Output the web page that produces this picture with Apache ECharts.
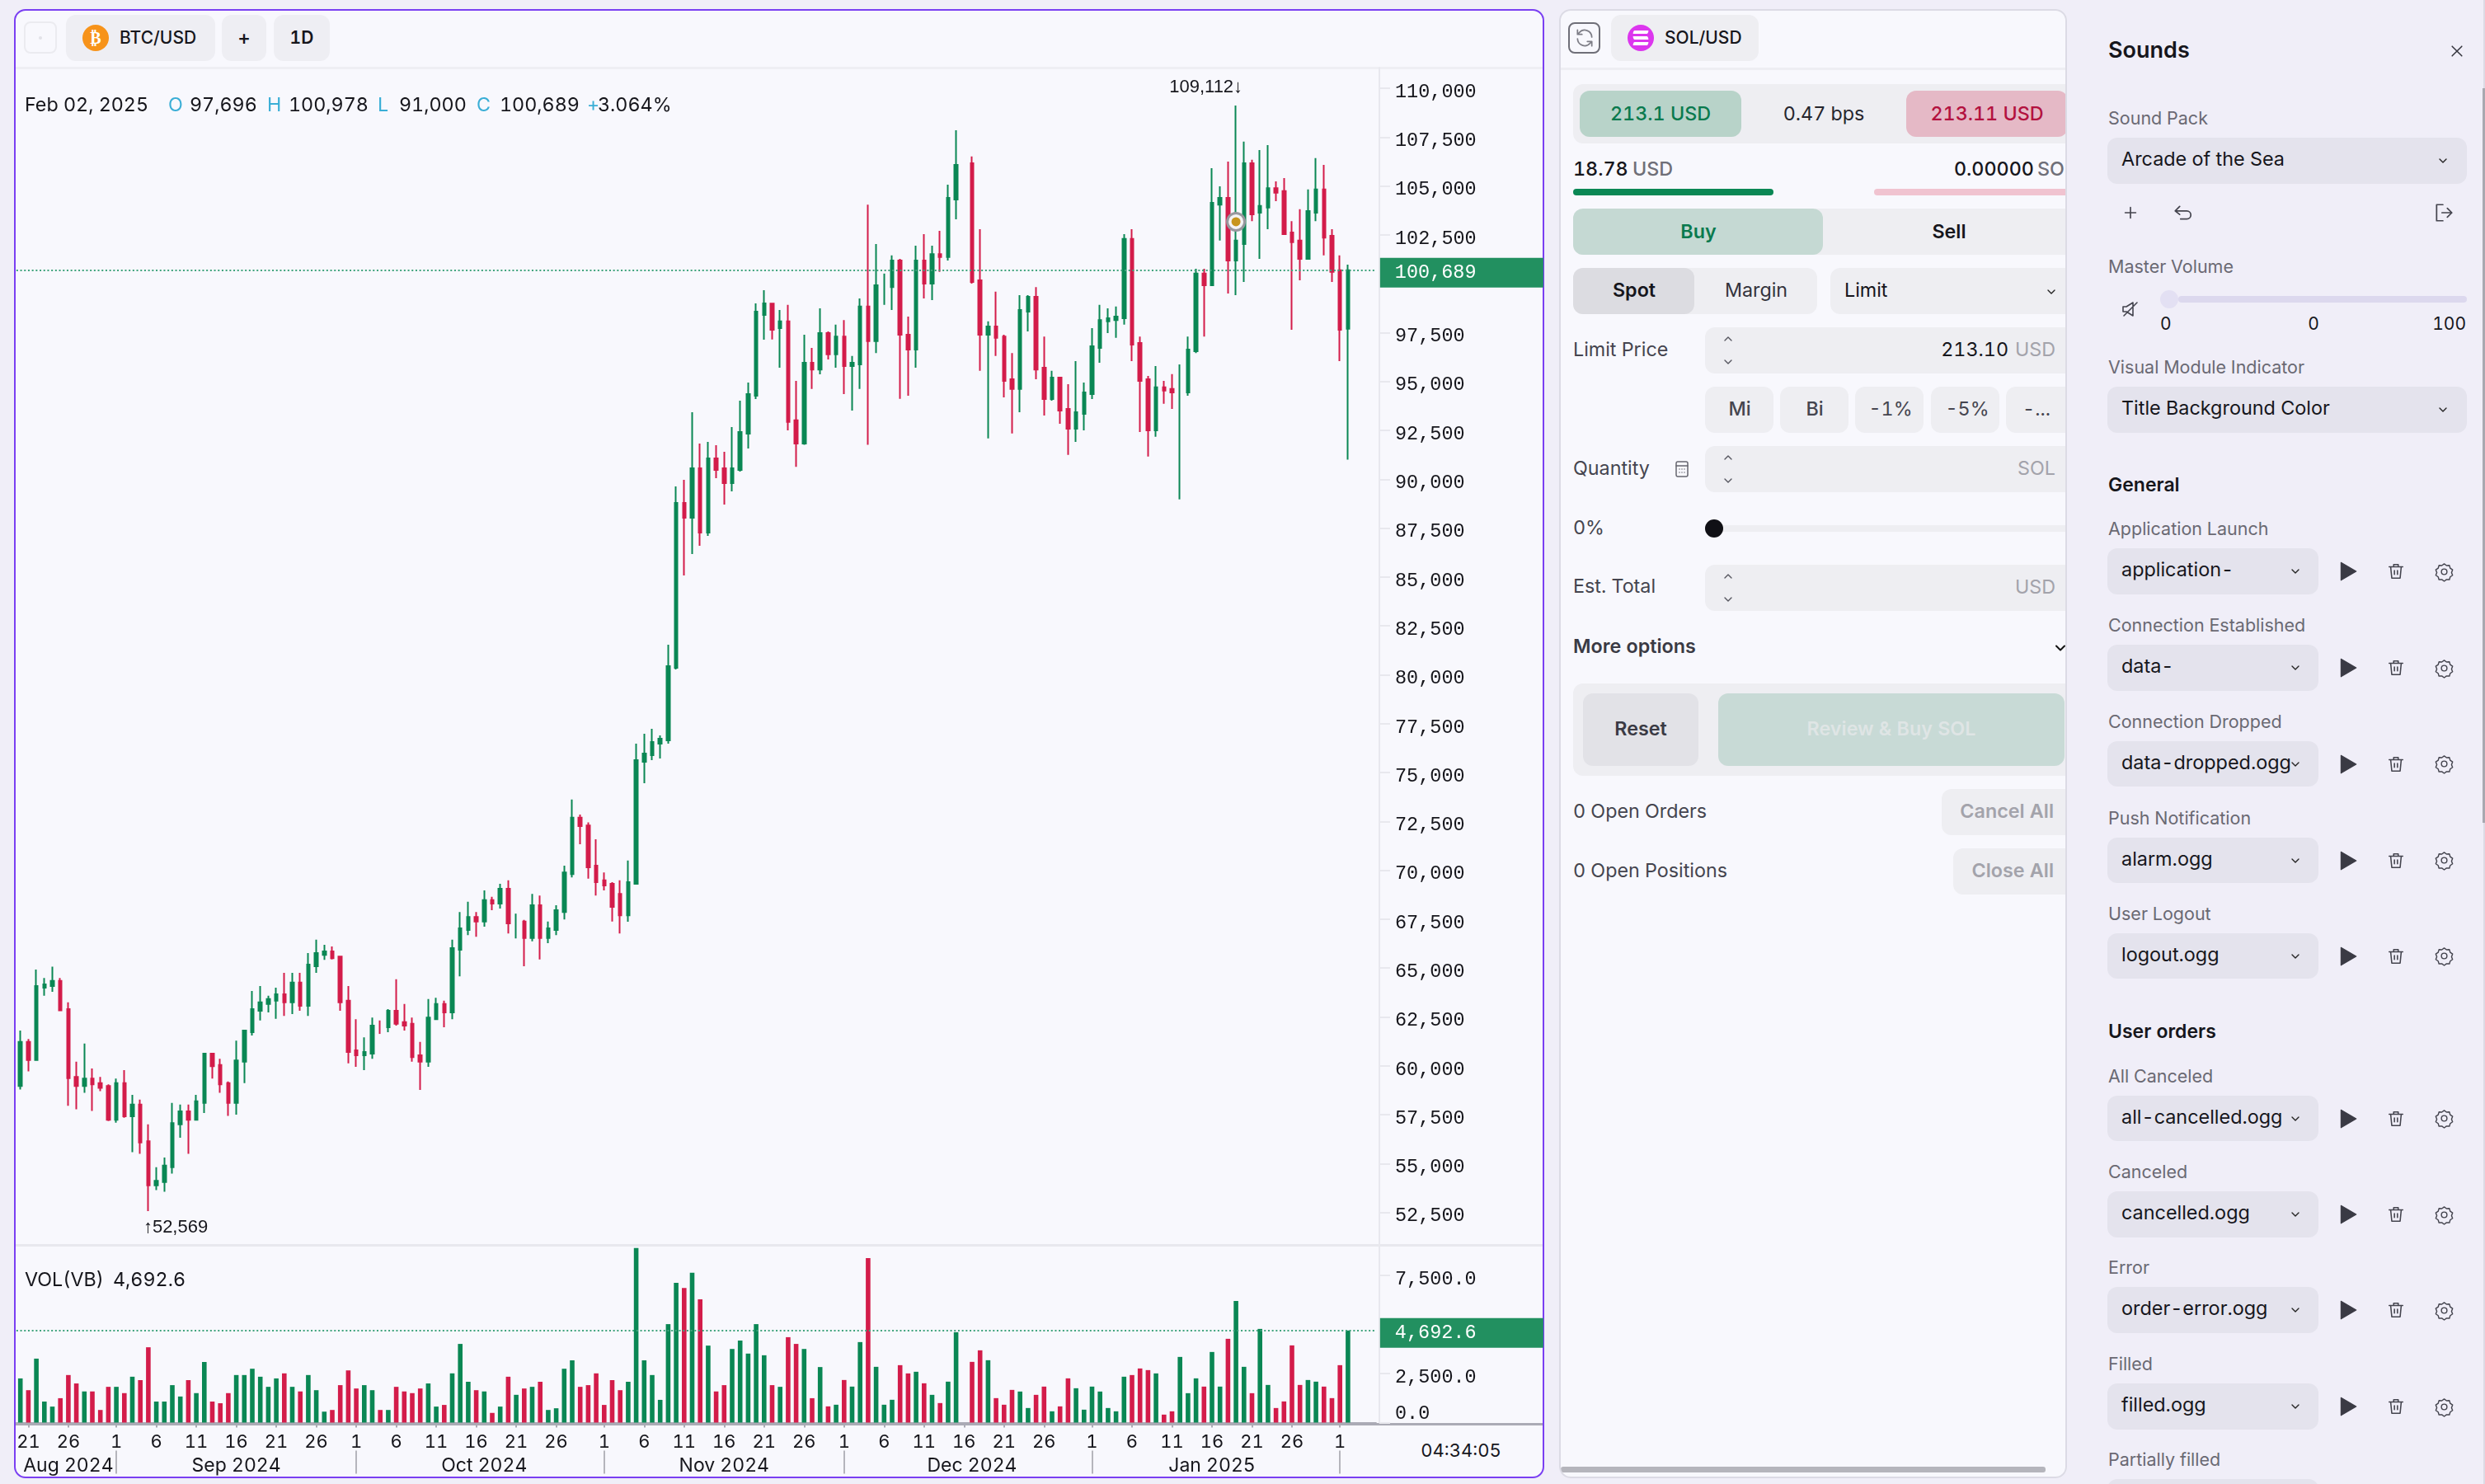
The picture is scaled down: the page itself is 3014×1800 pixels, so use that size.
<!DOCTYPE html>
<html>
<head>
<meta charset="utf-8">
<title>BTC/USD</title>
<script src="https://cdn.jsdelivr.net/npm/echarts@6/dist/echarts.min.js"></script>
<style>
html,body{margin:0;padding:0;width:3014px;height:1800px;overflow:hidden;background:#f0eef8;font-family:Inter,"Noto Sans",sans-serif;font-variant-numeric:tabular-nums;}
div.a{position:absolute;white-space:nowrap;}
svg{position:absolute;overflow:visible;}
#chart{position:absolute;left:0;top:0;width:3014px;height:1800px;}
</style>
</head>
<body>
<div id="ui"></div>
<div id="chart"></div>
<div id="ui2"></div>
<script>
// daily candles from Aug 20 2024 (118 has no trade)
var opens=[
58966,61225,60300,63999,64086,64344,62903,59439,58966,59353,
59117,58966,57245,59117,57417,58019,56148,53889,54061,54814,
57008,57675,57245,58105,60622,60042,59117,58105,60214,61720,
62817,63161,63333,63656,63247,64258,63075,65097,65678,65850,
65592,63333,60794,60536,60622,62064,61978,62817,62236,62150,
60536,60214,62386,63161,62731,65936,66947,67614,67377,68475,
68303,69055,67291,67377,66538,68216,66538,66947,67872,69808,
72700,72290,70238,69486,69313,68797,67700,69311,75551,75888,
76479,76648,80358,88791,88032,90562,87273,91068,90562,89803,
90477,92333,94272,98404,98988,97732,98076,93017,91829,95960,
95615,97474,96390,97302,95787,95873,98834,97061,99918,99832,
101191,97388,96631,101191,100004,101518,101363,104306,null,106165,
100176,97388,97818,97302,95116,94617,98575,99333,95701,94101,
95202,93602,92586,93343,94359,96717,98076,98145,98231,102293,
96975,95116,92500,94703,94617,94445,94445,96545,100520,99918,
104048,104392,101191,102035,106165,103635,103893,104892,104737,102620,
102207,101277,103635,104823,102448,100692,97696];
var closes=[
61225,60300,64086,64172,64344,62838,59375,58966,59353,59052,
58880,57245,59117,57417,58019,56083,53889,54125,54900,57073,
57675,57245,58191,60622,59977,59052,58105,60278,61806,62903,
63247,63419,63656,63247,64258,63075,65183,65764,65850,65506,
63247,60708,60536,60708,62064,62020,62817,62150,62064,60450,
60214,62472,63161,62731,66022,67033,67614,67377,68475,68303,
69055,67291,67320,66538,68216,66538,67033,67958,69895,72700,
72261,70153,69395,69228,68130,67700,69400,75636,75973,76563,
76732,80442,88791,88032,90562,87273,91068,90477,89803,90562,
92417,94357,98573,98995,97646,98076,92930,91829,95960,95615,
97474,96390,97302,95787,95960,98834,97061,99918,99960,101191,
97388,96631,101191,100004,101518,101363,104392,106079,null,100090,
97388,97818,97233,95030,94617,98661,99333,95615,94101,95202,
93516,92586,93430,94445,96803,98145,98231,98317,102293,96889,
95030,92500,94703,94531,94445,94480,96631,100520,99918,104134,
104392,101191,102207,106165,103549,103979,104892,104651,102534,102121,
101277,103721,104823,102362,100606,97646,100689];
var lows=[
58794,59719,60300,63591,63785,62838,57955,57783,58622,57697,
58708,57180,57094,57352,55588,55502,52569,53652,53566,54491,
56320,55502,57245,57589,59353,58622,57438,57503,59117,61548,
62322,62731,62408,62559,62645,62817,62559,64753,65420,65441,
62817,60128,59955,59784,60364,61634,61720,62064,61806,60214,
58772,59955,62386,61978,62386,64581,66689,66603,67119,67958,
68044,66775,66517,65097,66366,65441,66280,66689,67485,69636,
71336,69572,68711,68969,67377,66775,67376,69300,74455,75636,
75720,76479,80274,85080,86177,86598,87104,90056,88707,89381,
90393,91574,94104,97140,97147,95701,92500,90641,91760,94617,
95374,96132,95701,94359,93516,94617,91760,96459,98920,98661,
94118,94273,95701,99247,99161,100606,101191,103291,null,100004,
95547,92087,96304,94187,92346,93430,97560,95116,93258,94015,
92844,91244,91915,92500,94101,95960,97474,97233,97904,96046,
92414,91158,92173,93860,93602,88973,94273,96459,97302,99918,
102207,99505,99419,100090,103205,101277,102792,104220,102534,97646,
100176,101277,103205,101450,100090,96046,91000];
var highs=[
61806,61375,64925,64495,65076,64495,63247,60214,61139,59869,
59439,59052,59353,59783,58514,58277,57008,54814,55309,58105,
58019,58019,58514,60622,60622,60364,59203,61289,61806,63828,
64086,63591,64000,64753,64753,64753,65764,66452,66194,66108,
65592,64086,62386,61461,62472,62322,62903,64430,63161,62472,
61225,63419,63484,63333,66452,67872,68389,67872,68969,68647,
69313,69486,67786,67464,68797,68711,67377,68216,70239,73620,
72850,72450,71588,69895,69400,69486,70497,76479,76985,77238,
76900,81539,89634,89972,93429,91827,91911,91742,91405,92670,
94019,94947,98995,99669,98988,98661,98920,95030,97388,96717,
98747,97560,97904,98145,96304,99247,104048,102035,100520,101450,
101277,98317,101949,102534,101949,102706,105064,107852,null,106509,
102792,98076,99591,97388,96459,99419,99419,99832,97302,95547,
95202,94858,96046,94944,97732,98920,98747,98834,102534,102792,
97302,95288,95788,95030,95375,95873,97302,100761,100761,105907,
104978,106251,109112,107266,106337,106836,107094,105236,105408,103205,
103807,104823,106423,106079,102792,101449,100978];
var volumes=[
2251,1651,3259,1072,815,1243,2423,1994,1587,1587,
643,1822,1822,1501,2337,2165,3838,1072,1072,1908,
1329,2165,1501,3087,1072,986,1501,2423,2423,2744,
2337,1822,2251,2508,1822,1587,2423,1651,557,643,
1908,2659,1737,1908,1651,643,643,1822,1587,1501,
1737,1994,815,900,2508,4009,2080,1651,1587,493,
815,2337,1415,1737,1822,2080,643,729,2744,3173,
1822,1908,2508,900,2165,1651,2080,8897,3173,2423,
1158,5017,7118,6861,7633,6282,3923,1587,1908,3752,
4181,3516,5017,3430,1908,1822,4352,4009,3752,1243,
2830,826,910,2170,1834,4102,8386,2842,910,1162,
2926,2506,2590,2002,1414,994,2086,4606,null,3094,
3682,3178,1246,910,1666,1582,742,1414,1834,574,
826,2254,1750,658,1834,1582,742,574,2338,2422,
2758,2674,2506,406,574,3346,1498,2254,1834,3598,
1834,4270,6202,2842,1498,4774,1918,742,1078,3934,
1918,2170,2086,1834,1246,2926,4692.6];

var priceTicks=[110000,107500,105000,102500,97500,95000,92500,90000,87500,85000,82500,80000,77500,75000,72500,70000,67500,65000,62500,60000,57500,55000,52500];
var volumeTicks=[0,2500,7500];
var dayTicks=[1,6,11,16,21,26];
var monthNames=['Aug 2024','Sep 2024','Oct 2024','Nov 2024','Dec 2024','Jan 2025'];
var monthLabelIndex=[6,27,58,88,119,149];
var monthStartIndex=[12,42,73,103,134,165];
var markerPrice=103170;

var GREEN='#0a8754',RED='#d31c4a',TAG='#229060',INK='#16161c',MONO='"Liberation Mono",monospace';
var fmt=function(v){return Number(v).toLocaleString('en-US');};
var fmt1=function(v){return Number(v).toLocaleString('en-US',{minimumFractionDigits:1,maximumFractionDigits:1});};

// 170 daily slots: the last three stay empty to the right of the last candle
var categories=[],dayOfCat=[];
for(var d=0;d<170;d++){
    var dt=new Date(Date.UTC(2024,7,20+d));
    categories.push(dt.toISOString().slice(0,10));
    dayOfCat.push(dt.getUTCDate());
}
var last=opens.length-1;

// ---------- plain page parts ----------
function box(p,x,y,w,h,bg,r,extra){
    var e=document.createElement('div');e.className='a';
    e.style.cssText='left:'+x+'px;top:'+y+'px;width:'+w+'px;height:'+h+'px;background:'+bg+';border-radius:'+(r||0)+'px;'+(extra||'');
    p.appendChild(e);return e;
}
function txt(p,x,y,s,o){
    o=o||{};
    var e=document.createElement('div');e.className='a';e.textContent=s;
    var tx=o.align=='center'?'-50%':o.align=='right'?'-100%':'0';
    e.style.cssText='left:'+x+'px;top:'+y+'px;transform:translate('+tx+',-50%);font-size:'+(o.size||23.3)+'px;color:'+(o.color||INK)+';font-weight:'+(o.weight||400)+';line-height:1.2;'+(o.extra||'');
    p.appendChild(e);return e;
}
function icon(p,cx,cy,size,body,stroke,sw,fill){
    var s=document.createElementNS('http://www.w3.org/2000/svg','svg');
    s.setAttribute('width',size);s.setAttribute('height',size);s.setAttribute('viewBox','0 0 24 24');
    s.style.left=(cx-size/2)+'px';s.style.top=(cy-size/2)+'px';
    s.innerHTML='<g fill="'+(fill||'none')+'" stroke="'+(stroke||'#33333c')+'" stroke-width="'+(sw||2)+'" stroke-linecap="round" stroke-linejoin="round">'+body+'</g>';
    p.appendChild(s);return s;
}
var CHEV='<path d="M6 9l6 6 6-6"/>',UP='<path d="M6 15l6-6 6 6"/>';
var TRASH='<path d="M3 6h18M9 6V3h6v3M5 6l1.5 15h11L19 6M10 11v5M14 11v5"/>';
var GEAR='<path d="M12 2l3 2.2 3.6-.2 1 3.5 3 2.100-1.300 3.400 1.300 3.400-3 2.100-1 3.500-3.600-.2-3 2.200-3-2.200-3.600.2-1-3.500-3-2.100 1.300-3.400-1.300-3.400 3-2.100 1-3.500 3.600.2z"/><circle cx="12" cy="12" r="3.500"/>';

var ui=document.getElementById('ui'),ui2=document.getElementById('ui2');

// chart card
box(ui,17,11,1856,1782,'#f8f8fd',14,'box-sizing:border-box;border:2.5px solid #7a3ff2;');
box(ui,19,81,1852,3,'#eeeef3');
box(ui,19,1509,1852,3,'#e8e8ee');
box(ui,19,1726,1852,3,'#ababb5');
box(ui,29,26,40,39,'#f8f8fd',8,'box-sizing:border-box;border:2px solid #ebebf0;');
box(ui,47,44,4,4,'#e2e2e8',2);
box(ui,80,18,181,56,'#eeeef3',12);
box(ui,269,18,54,56,'#eeeef3',12);
box(ui,332,18,68,56,'#eeeef3',12);
box(ui,100,30,32,32,'#f7931a',16);
txt(ui,116,46,'₿',{align:'center',size:20,color:'#fff',weight:700,extra:'font-family:"DejaVu Sans";'});
txt(ui,145,46,'BTC/USD',{size:21,weight:500});
txt(ui,296,46,'+',{align:'center',size:24,weight:500});
txt(ui,366,46,'1D',{align:'center',size:21,weight:600});
txt(ui,1772,1759,'04:34:05',{align:'center',size:22});

// OHLC read-out
var CY='#3aaed6';
txt(ui2,30,127,'Feb 02, 2025');
txt(ui2,204,127,'O',{color:CY});txt(ui2,230,127,fmt(opens[last]));
txt(ui2,324,127,'H',{color:CY});txt(ui2,350,127,fmt(highs[last]));
txt(ui2,458,127,'L',{color:CY});txt(ui2,484,127,fmt(lows[last]));
txt(ui2,578,127,'C',{color:CY});txt(ui2,606,127,fmt(closes[last]));
txt(ui2,712,127,'+',{color:CY});txt(ui2,725,127,((closes[last]-opens[last])/opens[last]*100+0.0004).toFixed(3)+'%');
txt(ui2,30,1552,'VOL(VB)');txt(ui2,137,1552,fmt1(volumes[last]));

// order panel
box(ui,1891,11,616,1782,'#f8f8fd',14);
var clip=box(ui,1891,11,616,1782,'transparent',14,'overflow:hidden;');
var t=box(clip,-1891,-11,3014,1800,'transparent');
box(ui,1891,11,616,1782,'transparent',14,'box-sizing:border-box;border:2px solid #dcdbe5;');
var G='#eeeef2',LB='#45454f',GY='#a3a3ab';
box(t,1902,27,39,38,'transparent',8,'box-sizing:border-box;border:2px solid #6f6f78;');
icon(t,1921.500,46,26,'<path d="M20 11a8 8 0 0 0-14-5l-2 2M4 3v5h5M4 13a8 8 0 0 0 14 5l2-2M20 21v-5h-5"/>','#7d7d86',1.600);
box(t,1954,18,179,56,G,12);
box(t,1974,30,32,32,'#dc36ee',16);
box(t,1981,37,18,4,'#fff',1,'transform:skewX(-20deg);');box(t,1981,44,18,4,'#fff',1,'transform:skewX(20deg);');box(t,1981,51,18,4,'#fff',1,'transform:skewX(-20deg);');
txt(t,2019,46,'SOL/USD',{size:21,weight:500});
box(t,1891,82,616,3,'#eeeef3');
box(t,1908,102,640,72,G,12);
box(t,1916,110,196,56,'#b8d3c9',12);
txt(t,2014,138,'213.1 USD',{align:'center',color:'#0a7a4e',weight:500});
txt(t,2212,138,'0.47 bps',{align:'center',color:'#26262e'});
box(t,2312,110,196,56,'#e5b9c6',12);
txt(t,2410,138,'213.11 USD',{align:'center',color:'#b3123f',weight:500});
txt(t,1908,205,'18.78',{weight:500});txt(t,1980,205,'USD',{color:'#6f6f78',weight:500});
txt(t,2370,205,'0.00000',{weight:500});txt(t,2471,205,'SOL',{color:'#6f6f78',weight:500});
box(t,1908,229,243,8,'#0a8754',4);box(t,2273,229,260,8,'#f0c3d0',4);
box(t,1908,253,640,56,G,12);box(t,1908,253,303,56,'#c5d9d3',12);
txt(t,2060,281,'Buy',{align:'center',color:'#0a7a4e',weight:600});
txt(t,2364,281,'Sell',{align:'center',weight:600});
box(t,1908,325,296,56,G,12);box(t,1908,325,147,56,'#dcdce1',12);
txt(t,1982,352,'Spot',{align:'center',weight:600});
txt(t,2130,352,'Margin',{align:'center',color:'#33333c'});
box(t,2220,325,320,56,G,12);txt(t,2237,352,'Limit');icon(t,2488,354,16,CHEV,'#222');
function field(y,unit,val){
    box(t,2068,y,480,56,G,12);
    icon(t,2095.500,y+14,16,UP,'#55555f');icon(t,2095.500,y+42,16,CHEV,'#55555f');
    txt(t,2493,y+27,unit,{align:'right',color:GY});
    if(val)txt(t,2436,y+27,val,{align:'right'});
}
txt(t,1908,424,'Limit Price',{color:LB});field(397,'USD','213.10');
var pct=[['Mi',2068,83,2110],['Bi',2159,83,2201],['-1%',2250,83,2293],['-5%',2342,83,2386],['-...',2433,100,2470]];
pct.forEach(function(b){box(t,b[1],469,b[2],56,G,12);txt(t,b[3],496,b[0],{align:'center',color:LB,weight:b[0].length<3?500:400});});
txt(t,1908,568,'Quantity',{color:LB});icon(t,2040,569,24,'<rect x="5" y="3" width="14" height="18" rx="2"/><path d="M5 8h14M9 12v.1M12 12v.1M15 12v.1M9 16v.1M12 16v.1M15 16v.1"/>','#66666f',1.500);
field(541,'SOL');
txt(t,1908,640,'0%',{color:LB});box(t,2068,637,480,8,G,0);box(t,2068,630,22,22,'#101015',11);
txt(t,1908,711,'Est. Total',{color:LB});field(685,'USD');
txt(t,1908,784,'More options',{color:'#3a3a44',weight:600});icon(t,2499,786,20,CHEV,'#111',2.400);
box(t,1908,829,640,112,G,12);box(t,1920,841,140,88,'#e2e2e7',12);
txt(t,1990,883.500,'Reset',{align:'center',color:'#3a3a44',weight:600});
box(t,2084,841,420,88,'#c8dad6',12);
txt(t,2294,883.500,'Review & Buy SOL',{align:'center',color:'#dfe5e5',weight:600});
txt(t,1908,983.500,'0 Open Orders',{color:LB});box(t,2355,957,200,56,G,12);txt(t,2491,983.500,'Cancel All',{align:'right',color:GY,weight:600});
txt(t,1908,1055.500,'0 Open Positions',{color:LB});box(t,2369,1029,200,56,G,12);txt(t,2491,1055.500,'Close All',{align:'right',color:GY,weight:600});
box(t,1893,1779,588,7,'#b5b5bc',3);

// sounds panel
var S=document.getElementById('ui'),SL='#6a6973',SB='#e4e3ed';
box(S,3012,0,2,1800,'#dcdbe5');box(S,3011,107,3,891,'#a8a8b0');
txt(S,2557,61,'Sounds',{size:27,weight:600});
icon(S,2980,62,20,'<path d="M5 5l14 14M19 5L5 19"/>','#33333c',1.800);
function select(y,w,label,val){
    txt(S,2557,y-23,label,{color:SL,size:21.500});
    box(S,2556,y,w,55.500,SB,12);
    txt(S,2573,y+26,val,{size:23.400});
    icon(S,2556+w-(w>300?29:28),y+28,16,CHEV,'#222');
}
select(167,436,'Sound Pack','Arcade of the Sea');
icon(S,2584,258,22,'<path d="M12 5v14M5 12h14"/>','#44444e',1.800);
icon(S,2648,258,26,'<path d="M8 5L3 10l5 4M3 10h13a4.500 4.500 0 0 1 0 9H9"/>','#44444e',1.600);
icon(S,2964,258,26,'<path d="M11 3H4v18h7M10 12h11M16 7l5 5-5 5"/>','#44444e',1.600);
txt(S,2557,324,'Master Volume',{color:SL,size:21.500});
box(S,2642,359,350,8,'#dcd8ee',4);box(S,2620,352,22,22,'#e3e0f3',11);
icon(S,2584,375,24,'<path d="M3 9h4l8-5v16l-8-5H3zM4 20L20 4"/>','#44444e',1.600);
txt(S,2620,393,'0',{size:21});txt(S,2806,393,'0',{align:'center',size:21});txt(S,2991,393,'100',{align:'right',size:21});
select(469,436,'Visual Module Indicator','Title Background Color');
function row(y,label,val){
    select(y,256,label,val);
    icon(S,2848,y+28,26,'<path d="M4 2l17 10L4 22z"/>','#3a3a44',1,'#3a3a44');
    icon(S,2906,y+28,22,TRASH,'#44444e',1.700);
    icon(S,2964,y+28,23,GEAR,'#44444e',1.500);
}
txt(S,2557,589,'General',{size:23,weight:600});
row(665,'Application Launch','application-');
row(782,'Connection Established','data-');
row(898.500,'Connection Dropped','data-dropped.ogg');
row(1015.500,'Push Notification','alarm.ogg');
row(1131.500,'User Logout','logout.ogg');
txt(S,2557,1252,'User orders',{size:23,weight:600});
row(1328.500,'All Canceled','all-cancelled.ogg');
row(1445,'Canceled','cancelled.ogg');
row(1561,'Error','order-error.ogg');
row(1678,'Filled','filled.ogg');
txt(S,2557,1771,'Partially filled',{color:SL,size:21.500});
box(S,2556,1794,256,56,SB,12);

// ---------- chart ----------
var candles=[],dojis=[],volData=[];
categories.forEach(function(c,i){
    var isData=i<=last&&opens[i]!=null;
    var col=isData&&closes[i]>=opens[i]?GREEN:RED;
    var v=isData?[opens[i],closes[i],lows[i],highs[i]]:[null,null,null,null];
    // hairline days have no visible body in the reference
    var thin=isData&&Math.abs(closes[i]-opens[i])<60;
    candles.push(thin?[null,null,null,null]:v);
    dojis.push(thin?{value:v,itemStyle:{color:col,color0:col,borderColor:col,borderColor0:col}}:[null,null,null,null]);
    volData.push(isData?{value:volumes[i],itemStyle:{color:col}}:null);
});
var gridLeft=19.85,gridWidth=1649;
var chart=echarts.init(document.getElementById('chart'),null,{renderer:'canvas'});
// labels sit a little below their tick in the reference
var axisLabelMono={fontFamily:MONO,fontSize:23.5,color:INK,margin:19,verticalAlign:'top',lineHeight:9};
var tickLine={show:true,length:13,lineStyle:{color:'#e8e8ee',width:2}};
var lineOfAxis={show:true,lineStyle:{color:'#e8e8ee',width:2}};
function tagLine(v,text){
    return {silent:true,symbol:'none',animation:false,
        lineStyle:{color:'#3fa37c',type:[2,2.7],width:2},
        label:{show:true,position:'end',distance:5,offset:[0,3],width:180,height:36,lineHeight:36,padding:[0,0,0,18],
            backgroundColor:TAG,color:'#fff',fontFamily:MONO,fontSize:23.5,align:'left',formatter:text},
        data:[{yAxis:v}]};
}
chart.setOption({
    animation:false,
    backgroundColor:'transparent',
    grid:[
        {left:gridLeft,width:gridWidth,top:82,height:1428},
        {left:gridLeft,width:gridWidth,top:1511,height:214.5}
    ],
    xAxis:[
        {type:'category',gridIndex:0,data:categories,show:false},
        {type:'category',gridIndex:1,data:categories,
            axisLine:{show:true,lineStyle:{color:'#ababb5',width:2}},
            axisTick:{show:true,alignWithLabel:true,length:6,lineStyle:{color:'#ababb5',width:2},
                interval:function(i){return dayTicks.indexOf(dayOfCat[i])>=0&&i>0;}},
            axisLabel:{show:true,margin:13,fontFamily:'Inter',fontSize:22,color:INK,hideOverlap:false,
                interval:function(i){return dayTicks.indexOf(dayOfCat[i])>=0&&i>0;},
                formatter:function(v,i){return String(dayOfCat[i]);}}},
        {type:'category',gridIndex:1,data:categories,position:'bottom',offset:34,
            axisLine:{show:false},
            axisTick:{show:true,alignWithLabel:true,length:28,lineStyle:{color:'#b5b5bc',width:2},
                interval:function(i){return monthStartIndex.indexOf(i)>=0;}},
            axisLabel:{show:true,margin:7,fontFamily:'Inter',fontSize:23,color:INK,hideOverlap:false,
                interval:function(i){return monthLabelIndex.indexOf(i)>=0;},
                formatter:function(v,i){return monthNames[monthLabelIndex.indexOf(i)];}}}
    ],
    yAxis:[
        {type:'value',gridIndex:0,position:'right',offset:4.15,min:50843,max:111054,scale:true,
            splitLine:{show:false},axisLine:lineOfAxis,axisTick:Object.assign({customValues:priceTicks},tickLine),
            axisLabel:Object.assign({customValues:priceTicks,formatter:function(v){return fmt(v);}},axisLabelMono)},
        {type:'value',gridIndex:1,position:'right',offset:4.15,min:0,max:9012,
            splitLine:{show:false},axisLine:lineOfAxis,axisTick:Object.assign({customValues:volumeTicks},tickLine),
            axisLabel:Object.assign({customValues:volumeTicks,verticalAlignMinLabel:'bottom',
                rich:{z:{fontFamily:MONO,fontSize:23.5,color:INK,lineHeight:22}},
                formatter:function(v){return v===0?'{z|'+fmt1(v)+'}':fmt1(v);}},axisLabelMono)}
    ],
    series:[
        {type:'candlestick',name:'BTC/USD',xAxisIndex:0,yAxisIndex:0,data:candles,barWidth:4,clip:false,
            itemStyle:{color:GREEN,color0:RED,borderColor:GREEN,borderColor0:RED,borderWidth:2},
            markLine:tagLine(closes[last],fmt(closes[last])),
            markPoint:{silent:true,animation:false,data:[
                {coord:[categories[152],highs[152]],symbolSize:0,
                    label:{show:true,position:'left',distance:-8,offset:[0,-22],color:INK,fontFamily:'Liberation Sans',fontSize:22,formatter:fmt(highs[152])+'↓'}},
                {coord:[categories[16],lows[16]],symbolSize:0,
                    label:{show:true,position:'right',distance:0,offset:[-6,20],color:INK,fontFamily:'Liberation Sans',fontSize:22,formatter:'↑'+fmt(lows[16])}},
                {coord:[categories[152],markerPrice],symbol:'circle',symbolSize:21,itemStyle:{color:'#f4f4f6',borderColor:'#98989e',borderWidth:3},label:{show:false}},
                {coord:[categories[152],markerPrice],symbol:'circle',symbolSize:11,itemStyle:{color:'#c8951d'},label:{show:false}}
            ]}},
        {type:'candlestick',name:'BTC/USD thin',xAxisIndex:0,yAxisIndex:0,data:dojis,barWidth:1,clip:false,
            itemStyle:{borderWidth:2}},
        {type:'bar',name:'VOL(VB)',xAxisIndex:1,yAxisIndex:1,data:volData,barWidth:5.6,
            markLine:tagLine(volumes[last],fmt1(volumes[last]))}
    ]
});
</script>
</body>
</html>
